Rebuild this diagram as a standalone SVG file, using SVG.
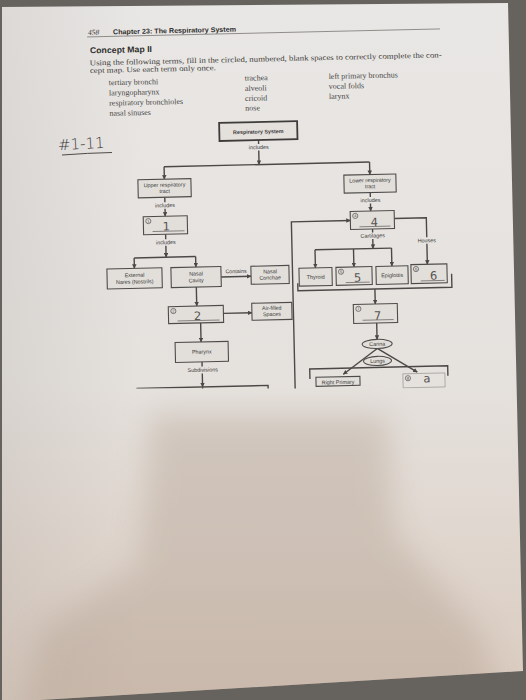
<svg xmlns="http://www.w3.org/2000/svg" width="526" height="700" viewBox="0 0 526 700">
<style>
.bx{fill:#e2dfdb;stroke:#4e4c4a;stroke-width:1.1}
.lb{font-family:"Liberation Sans",Arial,sans-serif;font-size:5.4px;fill:#3a3938;text-anchor:middle}
.cn{stroke:#4b4947;stroke-width:1.4;fill:none}
.ar{stroke:#4b4947;stroke-width:1.4;fill:none;marker-end:url(#ah)}
.hw{font-family:"DejaVu Sans",sans-serif;font-weight:normal;font-size:11.5px;fill:#55524f;text-anchor:middle}
.cc{fill:none;stroke:#3a3938;stroke-width:0.6}
.ci{font-family:"Liberation Sans",Arial,sans-serif;font-size:4px;fill:#3a3938;text-anchor:middle}
.ul{stroke:#5a5856;stroke-width:0.7}
.tm{font-family:"Liberation Serif","Times New Roman",serif;font-size:8px;fill:#4a4846}
.ins{font-family:"Liberation Serif","Times New Roman",serif;font-size:7.6px;fill:#3f3d3b}
</style>
<defs>
<marker id="ah" viewBox="0 0 6 6" refX="5.5" refY="3" markerWidth="4.5" markerHeight="4.5" orient="auto" markerUnits="userSpaceOnUse"><path d="M0,0 L6,3 L0,6 z" fill="#4b4947"/></marker>
<linearGradient id="pg" gradientUnits="userSpaceOnUse" x1="0" y1="0" x2="0" y2="700">
<stop offset="0" stop-color="#e9e7e5"/><stop offset="0.55" stop-color="#e5e1dd"/><stop offset="1" stop-color="#dacbbf"/></linearGradient>
<linearGradient id="lf" gradientUnits="userSpaceOnUse" x1="0" y1="0" x2="140" y2="0">
<stop offset="0" stop-color="#8a847e" stop-opacity="0.14"/><stop offset="1" stop-color="#8a847e" stop-opacity="0"/></linearGradient>
<filter id="bl" x="-50%" y="-50%" width="200%" height="200%"><feGaussianBlur stdDeviation="15"/></filter>
<clipPath id="cp"><rect x="0" y="0" width="526" height="388.5"/></clipPath>
<clipPath id="pc"><polygon points="2,7 508,3 523,671 40,700 2,700"/></clipPath>
</defs>
<rect x="0" y="0" width="526" height="700" fill="#66625d"/>
<polygon points="2,7 508,3 523,671 40,700 2,700" fill="url(#pg)"/>
<g clip-path="url(#pc)">
<polygon points="2,7 140,6 140,700 2,700" fill="url(#lf)"/>
<path d="M150,415 L388,415 L394,535 L480,630 L505,720 L20,720 L40,630 L138,565 Z" fill="#a89482" opacity="0.32" filter="url(#bl)"/>
</g>

<g id="handwritten-range">
<text x="58" y="149" font-family="DejaVu Sans,sans-serif" font-weight="200" font-size="15" fill="#3c3b3a" transform="rotate(-3 80 145)">#1-11</text>
<path d="M62,155 Q88,153 112,152.5" stroke="#3c3b3a" stroke-width="0.9" fill="none"/>
</g>

<g clip-path="url(#cp)">
<g transform="rotate(-1.3 263 250)">
<g id="header">
<text x="93" y="31" font-family="Liberation Serif,serif" font-style="italic" font-size="7.5" fill="#3a3836">458</text>
<text x="118" y="31" font-family="Liberation Sans,Arial,sans-serif" font-weight="bold" font-size="7" fill="#2f2e2d" textLength="123" lengthAdjust="spacingAndGlyphs">Chapter 23: The Respiratory System</text>
<line x1="92" y1="33" x2="445" y2="33" stroke="#6a6764" stroke-width="0.7"/>
<text x="94.5" y="49.5" font-family="Liberation Sans,Arial,sans-serif" font-weight="bold" font-size="8.5" fill="#2f2e2d" textLength="62" lengthAdjust="spacingAndGlyphs">Concept Map II</text>
<text class="ins" x="94" y="61.5" textLength="352" lengthAdjust="spacingAndGlyphs">Using the following terms, fill in the circled, numbered, blank spaces to correctly complete the con-</text>
<text class="ins" x="94" y="69.2" textLength="126" lengthAdjust="spacingAndGlyphs">cept map. Use each term only once.</text>
</g>
<g id="terms">
<text class="tm" x="112.5" y="81.8">tertiary bronchi</text>
<text class="tm" x="112.5" y="92">laryngopharynx</text>
<text class="tm" x="112.5" y="102.2">respiratory bronchioles</text>
<text class="tm" x="112.5" y="112.4">nasal sinuses</text>
<text class="tm" x="248.5" y="80.3">trachea</text>
<text class="tm" x="248.5" y="90.6">alveoli</text>
<text class="tm" x="248.5" y="100.6">cricoid</text>
<text class="tm" x="248.5" y="110.3">nose</text>
<text class="tm" x="332.5" y="80.5">left primary bronchus</text>
<text class="tm" x="332.5" y="90.5">vocal folds</text>
<text class="tm" x="332.5" y="100.5">larynx</text>
</g>

<g id="connectors">
<path class="cn" d="M261,140 V144"/>
<path class="ar" d="M261,150.5 V164.5"/>
<path class="cn" d="M166,164.5 H371.5"/>
<path class="ar" d="M166,164.5 V177"/>
<path class="ar" d="M371.5,164.5 V177"/>
<path class="cn" d="M166,195 V200"/>
<path class="ar" d="M166,206.5 V214"/>
<path class="cn" d="M166,232 V237"/>
<path class="ar" d="M166,243.5 V255"/>
<path class="cn" d="M134,255 H195.5"/>
<path class="ar" d="M134,255 V265.5"/>
<path class="ar" d="M195.5,255 V265.5"/>
<path class="ar" d="M220.5,276 H250.5"/>
<path class="ar" d="M195.5,285.5 V304.5"/>
<path class="ar" d="M222,312.5 H250.5"/>
<path class="ar" d="M199,321.5 V340.5"/>
<path class="cn" d="M199.5,360.5 V365"/>
<path class="ar" d="M199.5,372 V385.5"/>
<path class="cn" d="M134,389.5 V385.5 H265 V389.5 M199.5,385.5 V389"/>
<path class="cn" d="M371.5,195 V199.5"/>
<path class="ar" d="M371.5,206 V213.5"/>
<path class="ar" d="M292,392 V222.5 H351"/>
<path class="cn" d="M373,231.5 V235"/>
<path class="ar" d="M373,241.5 V251"/>
<path class="cn" d="M315,251 H391.5"/>
<path class="ar" d="M315,251 V269"/>
<path class="ar" d="M353.5,251 V269"/>
<path class="ar" d="M391.5,251 V269"/>
<path class="cn" d="M395,221.5 H427 V241"/>
<path class="ar" d="M427,247.5 V268"/>
<path class="cn" d="M297,284 V291.5 H451 V278"/>
<path class="ar" d="M374,291.5 V306.5"/>
<path class="ar" d="M375,325.5 V342"/>
<path class="cn" d="M307,380 V370 H445 V380"/>
<path class="ar" d="M375,351 L340.5,376"/>
<path class="ar" d="M375,351 L414.5,375.5"/>
</g>

<g id="n-respiratory-system">
<rect x="222" y="122" width="78" height="18" fill="#e4e1dd" stroke="#3e3c3a" stroke-width="1.8"/>
<text class="lb" x="261" y="133.5" font-weight="bold" font-size="6.4">Respiratory System</text>
</g>
<text class="lb" x="261" y="149">includes</text>
<g id="n-upper">
<rect class="bx" x="139.5" y="177" width="53" height="18"/>
<text class="lb" x="166" y="184.5">Upper respiratory</text>
<text class="lb" x="166" y="190.7">tract</text>
</g>
<g id="n-lower">
<rect class="bx" x="345.5" y="177" width="52" height="18"/>
<text class="lb" x="371.5" y="184.5">Lower respiratory</text>
<text class="lb" x="371.5" y="190.7">tract</text>
</g>
<text class="lb" x="166" y="205">includes</text>
<text class="lb" x="371.5" y="204.5">includes</text>
<g id="n-1">
<rect class="bx" x="144" y="214" width="44" height="18"/>
<circle class="cc" cx="149" cy="218.5" r="2.6"/>
<text class="ci" x="149" y="219.9">1</text>
<line class="ul" x1="153" y1="229" x2="185" y2="229"/>
<text class="hw" x="167" y="228.3">1</text>
</g>
<text class="lb" x="166" y="242">includes</text>
<g id="n-external-nares">
<rect class="bx" x="106.5" y="265.5" width="55" height="20"/>
<text class="lb" x="134" y="274">External</text>
<text class="lb" x="134" y="280.7">Nares (Nostrils)</text>
</g>
<g id="n-nasal-cavity">
<rect class="bx" x="170.5" y="265.5" width="50" height="20"/>
<text class="lb" x="195.5" y="274">Nasal</text>
<text class="lb" x="195.5" y="280.7">Cavity</text>
</g>
<text class="lb" x="235.5" y="272.5">Contains</text>
<g id="n-nasal-conchae">
<rect class="bx" x="250.5" y="266" width="38" height="18"/>
<text class="lb" x="269.5" y="273.5">Nasal</text>
<text class="lb" x="269.5" y="279.7">Conchae</text>
</g>
<g id="n-2">
<rect class="bx" x="167" y="304.5" width="55" height="17"/>
<circle class="cc" cx="172" cy="309" r="2.6"/>
<text class="ci" x="172" y="310.4">2</text>
<line class="ul" x1="176" y1="319" x2="218" y2="319"/>
<text class="hw" x="196" y="318.3">2</text>
</g>
<g id="n-air-filled">
<rect class="bx" x="250.5" y="303" width="40" height="17"/>
<text class="lb" x="270.5" y="310">Air-filled</text>
<text class="lb" x="270.5" y="316.2">Spaces</text>
</g>
<g id="n-pharynx">
<rect class="bx" x="173" y="340.5" width="53" height="20"/>
<text class="lb" x="199.5" y="352.2">Pharynx</text>
</g>
<text class="lb" x="200" y="370.3">Subdivisions</text>
<g id="n-4">
<rect class="bx" x="351" y="213.5" width="44" height="18"/>
<circle class="cc" cx="356" cy="218" r="2.6"/>
<text class="ci" x="356" y="219.4">4</text>
<line class="ul" x1="360" y1="229" x2="391" y2="229"/>
<text class="hw" x="375" y="228.6">4</text>
</g>
<text class="lb" x="373" y="240">Cartilages</text>
<text class="lb" x="427" y="246">Houses</text>
<g id="n-thyroid">
<rect class="bx" x="298.5" y="269" width="33" height="18"/>
<text class="lb" x="315" y="280">Thyroid</text>
</g>
<g id="n-5">
<rect class="bx" x="335.5" y="269" width="36" height="18"/>
<circle class="cc" cx="340.5" cy="273.5" r="2.6"/>
<text class="ci" x="340.5" y="274.9">5</text>
<line class="ul" x1="345" y1="284.5" x2="369" y2="284.5"/>
<text class="hw" x="357" y="283.8">5</text>
</g>
<g id="n-epiglottis">
<rect class="bx" x="375.5" y="269" width="32" height="18"/>
<text class="lb" x="391.5" y="280">Epiglottis</text>
</g>
<g id="n-6">
<rect class="bx" x="410.5" y="268" width="36" height="19"/>
<circle class="cc" cx="415.5" cy="272.5" r="2.6"/>
<text class="ci" x="415.5" y="273.9">6</text>
<line class="ul" x1="420" y1="284.5" x2="444" y2="284.5"/>
<text class="hw" x="433" y="283.6">6</text>
</g>
<g id="n-7">
<rect class="bx" x="352" y="306.5" width="44" height="19"/>
<circle class="cc" cx="357" cy="311" r="2.6"/>
<text class="ci" x="357" y="312.4">7</text>
<line class="ul" x1="361" y1="322.5" x2="392" y2="322.5"/>
<text class="hw" x="376" y="322.3">7</text>
</g>
<g id="n-carina">
<ellipse cx="375" cy="346.5" rx="15" ry="4.6" fill="#e2dfdb" stroke="#4e4c4a" stroke-width="1.1"/>
<text class="lb" x="375" y="348.4">Carina</text>
</g>
<g id="n-lungs">
<ellipse cx="375" cy="363.5" rx="14" ry="4.6" fill="#e2dfdb" stroke="#4e4c4a" stroke-width="1.1"/>
<text class="lb" x="375" y="365.4">Lungs</text>
</g>
<g id="n-right-primary">
<rect class="bx" x="313" y="378.5" width="44" height="9"/>
<text class="lb" x="335" y="385.7">Right Primary</text>
</g>
<g id="n-8">
<rect x="400" y="377" width="42" height="14" fill="none" stroke="#8a8784" stroke-width="0.6"/>
<circle class="cc" cx="405" cy="381.5" r="2.6"/>
<text class="ci" x="405" y="382.9">8</text>
<text class="hw" x="424" y="386" font-size="9">a</text>
</g>
</g>
</g>
</svg>
